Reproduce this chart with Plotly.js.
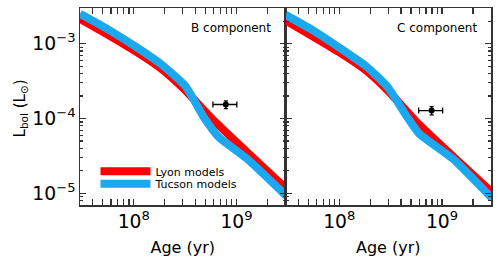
<!DOCTYPE html>
<html>
<head>
<meta charset="utf-8">
<script src="https://cdn.plot.ly/plotly-3.0.1.min.js"></script>
<style>html,body{margin:0;padding:0;background:#fff;}#chart{width:500px;height:260px;}</style>
</head>
<body>
<div id="chart"></div>
<script>
// Panel B (left)
const bLyonAge   = [3.0e7, 5.51e7, 1.0e8, 1.82e8, 3.06e8, 5.98e8, 3.04e9];
const bLyonL     = [2.15e-3, 1.34e-3, 8.2e-4, 4.73e-4, 2.51e-4, 9.5e-5, 1.16e-5];
const bTucsonAge = [3.0e7, 5.51e7, 1.0e8, 1.82e8, 3.18e8, 4.79e8, 6.69e8, 1.26e9, 3.04e9];
const bTucsonL   = [2.51e-3, 1.58e-3, 9.5e-4, 5.41e-4, 2.72e-4, 1.05e-4, 5.69e-5, 2.92e-5, 9.3e-6];
const bObsAge = [7.88e8], bObsAgeLo = [5.9e8], bObsAgeHi = [1.008e9];
const bObsL = [1.54e-4], bObsLErr = [1.8e-5];

// Panel C (right)
const cLyonAge   = [3.0e7, 5.5e7, 1.0e8, 1.82e8, 2.96e8, 6.0e8, 3.07e9];
const cLyonL     = [2.04e-3, 1.26e-3, 7.7e-4, 4.4e-4, 2.38e-4, 8.3e-5, 1.03e-5];
const cTucsonAge = [3.0e7, 5.5e7, 1.0e8, 1.82e8, 2.96e8, 4.46e8, 6.0e8, 1.27e9, 3.07e9];
const cTucsonL   = [2.43e-3, 1.52e-3, 8.9e-4, 5.03e-4, 2.64e-4, 1.11e-4, 6.3e-5, 2.92e-5, 8.6e-6];
const cObsAge = [7.93e8], cObsAgeLo = [5.93e8], cObsAgeHi = [1.015e9];
const cObsL = [1.28e-4], cObsLErr = [1.6e-5];

const seriesNames = ['Lyon models', 'Tucson models'];
const panelLabels = ['B component', 'C component'];

const RED = '#ff0000', BLUE = '#1ba8ee';
const FONT = 'DejaVu Sans, sans-serif';
const AX = '#333';

function obsTrace(age, lo, hi, L, Lerr, xa, ya) {
  return {
    x: age, y: L, xaxis: xa, yaxis: ya, mode: 'markers', type: 'scatter', showlegend: false,
    marker: {color: '#000', size: 6},
    error_x: {type: 'data', symmetric: false,
      array: age.map((v, i) => hi[i] - v), arrayminus: age.map((v, i) => v - lo[i]),
      color: '#000', thickness: 1.3, width: 3},
    error_y: {type: 'data', array: Lerr, color: '#000', thickness: 1.3, width: 2}
  };
}
function modelTrace(x, y, xa, ya, name, color, legend, show) {
  return {x: x, y: y, xaxis: xa, yaxis: ya, mode: 'lines', type: 'scatter', name: name,
    line: {color: color, width: 8, shape: 'spline', smoothing: 0.5},
    showlegend: show, legend: legend};
}
function emptyTrace(xa, ya) {
  return {x: [], y: [], xaxis: xa, yaxis: ya, mode: 'lines', type: 'scatter',
    showlegend: false, hoverinfo: 'skip'};
}

const data = [
  modelTrace(bLyonAge, bLyonL, 'x', 'y', seriesNames[0], RED, 'legend', true),
  modelTrace(bTucsonAge, bTucsonL, 'x', 'y', seriesNames[1], BLUE, 'legend2', true),
  obsTrace(bObsAge, bObsAgeLo, bObsAgeHi, bObsL, bObsLErr, 'x', 'y'),
  modelTrace(cLyonAge, cLyonL, 'x2', 'y2', seriesNames[0], RED, 'legend', false),
  modelTrace(cTucsonAge, cTucsonL, 'x2', 'y2', seriesNames[1], BLUE, 'legend2', false),
  obsTrace(cObsAge, cObsAgeLo, cObsAgeHi, cObsL, cObsLErr, 'x2', 'y2'),
  emptyTrace('x', 'y3'),
  emptyTrace('x2', 'y4')
];

const xRange = [Math.log10(3e7), Math.log10(3e9)];
const yRange = [Math.log10(7e-6), Math.log10(3e-3)];

function minorVals(d0, d1) {
  const v = [];
  for (let d = d0; d <= d1; d++) for (let m = 2; m <= 9; m++) v.push(m * Math.pow(10, d));
  return v;
}
const yMinor = minorVals(-6, -3);

function xAxis(domain, anchor) {
  return {
    type: 'log', range: xRange, domain: domain, anchor: anchor,
    showgrid: false, zeroline: false, showline: true, linecolor: AX, linewidth: 1.5,
    mirror: 'allticks', ticks: 'inside', ticklen: 6, tickwidth: 1.2, tickcolor: AX,
    dtick: 1, exponentformat: 'power',
    minor: {dtick: 'D1', ticks: 'inside', ticklen: 3, tickwidth: 1.2, tickcolor: AX, showgrid: false},
    tickfont: {family: FONT, size: 15, color: '#000'},
    title: {text: 'Age (yr)', font: {family: FONT, size: 16, color: '#000'}, standoff: 10}
  };
}
function yAxis(anchor, labels) {
  return {
    type: 'log', range: yRange, anchor: anchor, domain: [0, 1],
    showgrid: false, zeroline: false, showline: true, linecolor: AX, linewidth: 1.5,
    mirror: 'allticks', ticks: 'inside', ticklen: 6, tickwidth: 1.2, tickcolor: AX,
    dtick: 1, exponentformat: 'power', showticklabels: labels,
    tickfont: {family: FONT, size: 15, color: '#000'}
  };
}
function minorY(over, anchor) {
  return {type: 'log', range: yRange, overlaying: over, anchor: anchor, side: 'left',
    showgrid: false, zeroline: false, showline: false, showticklabels: false,
    tickmode: 'array', tickvals: yMinor, ticks: 'inside', ticklen: 3, tickwidth: 1.2, tickcolor: AX,
    mirror: 'ticks'};
}

const legendBase = {x: 0.0377, xanchor: 'left', yanchor: 'top', bgcolor: 'rgba(0,0,0,0)',
  font: {family: FONT, size: 11, color: '#000'}, itemwidth: 50};

const layout = {
  width: 500, height: 260,
  margin: {l: 79.5, r: 9, t: 8, b: 55},
  paper_bgcolor: '#fff', plot_bgcolor: 'rgba(0,0,0,0)',
  font: {family: FONT, color: '#000'},
  xaxis: xAxis([0, 0.5], 'y'),
  yaxis: yAxis('x', true),
  xaxis2: xAxis([0.5, 1], 'y2'),
  yaxis2: yAxis('x2', false),
  yaxis3: minorY('y', 'x'),
  yaxis4: minorY('y2', 'x2'),
  showlegend: true,
  legend: Object.assign({}, legendBase, {y: 0.245}),
  legend2: Object.assign({}, legendBase, {y: 0.182}),
  annotations: [
    {text: panelLabels[0], xref: 'x domain', yref: 'y domain', x: 0.94, y: 0.9,
     xanchor: 'right', yanchor: 'middle', showarrow: false, font: {family: FONT, size: 12}},
    {text: panelLabels[1], xref: 'x2 domain', yref: 'y2 domain', x: 0.94, y: 0.9,
     xanchor: 'right', yanchor: 'middle', showarrow: false, font: {family: FONT, size: 12}},
    {text: 'L<sub>bol</sub> (L<sub>⊙</sub>)', xref: 'paper', yref: 'paper', x: -0.146, y: 0.49,
     xanchor: 'center', yanchor: 'middle', textangle: -90, showarrow: false,
     font: {family: FONT, size: 15}}
  ]
};

Plotly.newPlot('chart', data, layout, {staticPlot: true, displayModeBar: false});
</script>
</body>
</html>
